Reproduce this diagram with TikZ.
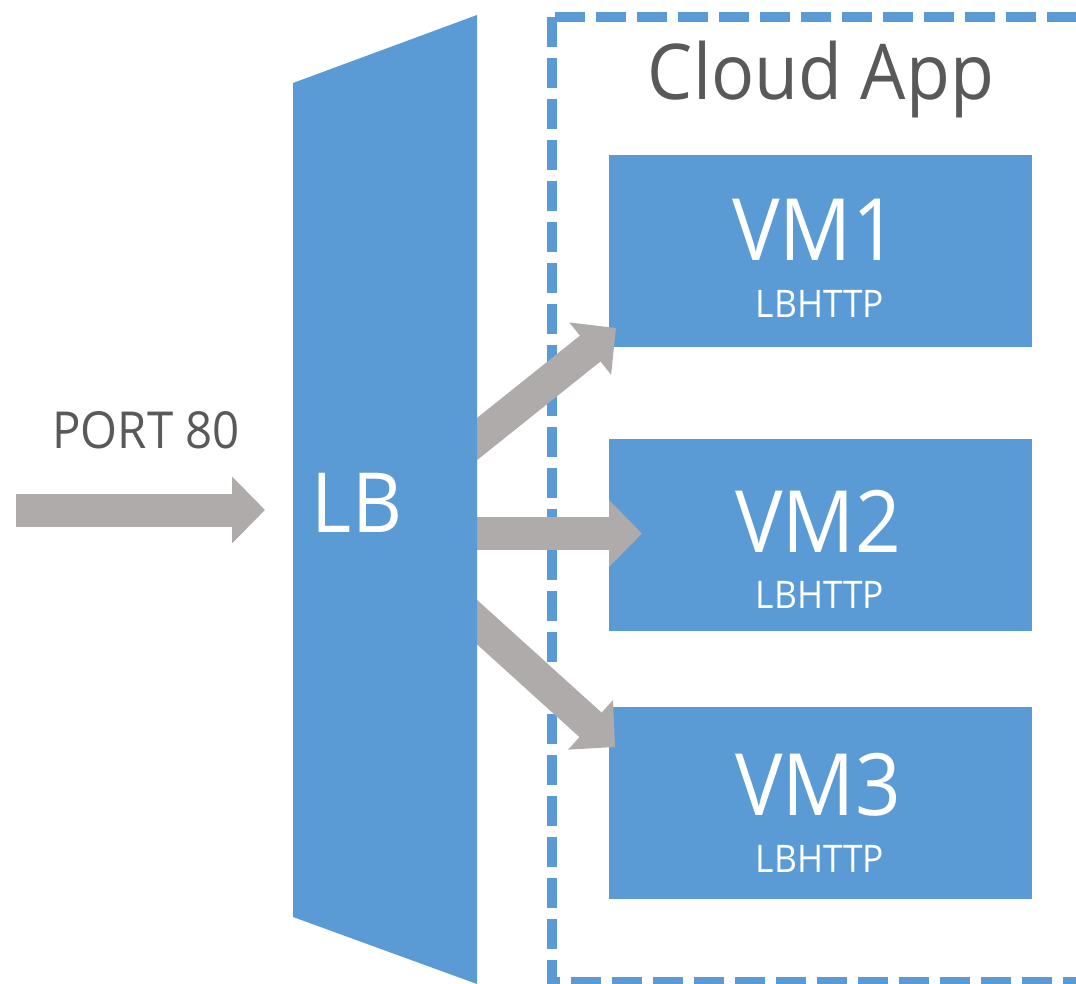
\documentclass[tikz,border=0pt]{standalone}
\usepackage{fontspec}
\setmainfont{Open Sans}[FakeStretch=0.93]
\usetikzlibrary{arrows.meta}
\definecolor{azblue}{HTML}{5B9BD5}
\definecolor{arrgray}{HTML}{AFABAB}
\definecolor{txtgray}{HTML}{595959}
\begin{document}
\begin{tikzpicture}[x=1pt,y=-1pt,
	vmbox/.style={fill=azblue, minimum width=423pt, minimum height=192pt, inner sep=0pt},
	bigtxt/.style={text=white, anchor=base, inner sep=0pt, font=\fontsize{86}{86}\selectfont},
	smalltxt/.style={text=white, anchor=base, inner sep=0pt, font=\fontsize{38}{38}\selectfont},
	fatarrow/.style={draw=arrgray, line width=33pt, -{Triangle[length=33pt,width=65pt]}}]
	\useasboundingbox (0,0) rectangle (1076,984);
	\draw[azblue, line width=9.5pt, dash pattern=on 30pt off 11pt] (552,17) rectangle (1100,982);
	\node[text=txtgray, anchor=base, inner sep=0pt, font=\fontsize{77}{77}\selectfont] (cloud) at (821,100) {Cloud App};
	\node[vmbox] (vm1) at (820.5,251) {};
	\node[vmbox] (vm2) at (820.5,534.5) {};
	\node[vmbox] (vm3) at (820.5,802.5) {};
	\node[bigtxt] (vm1name) at (815,261) {VM1};
	\node[smalltxt] (vm1role) at (820,317) {LBHTTP};
	\node[bigtxt] (vm2name) at (818,552) {VM2};
	\node[smalltxt] (vm2role) at (820,608) {LBHTTP};
	\node[bigtxt] (vm3name) at (818,815) {VM3};
	\node[smalltxt] (vm3role) at (820,872) {LBHTTP};
	\coordinate (in) at (16,510);
	\coordinate (lbin) at (265,510);
	\coordinate (lbout1) at (457,455);
	\coordinate (lbout2) at (457,533.5);
	\coordinate (lbout3) at (457,604);
	\coordinate (vm1in) at (616,328);
	\coordinate (vm2in) at (642,533.5);
	\coordinate (vm3in) at (615,747);
	\draw[fatarrow] (in) -- (lbin);
	\draw[fatarrow] (lbout1) -- (vm1in);
	\draw[fatarrow] (lbout2) -- (vm2in);
	\draw[fatarrow] (lbout3) -- (vm3in);
	\fill[azblue] (293,83) -- (477,15) -- (477,984) -- (293,917) -- cycle;
	\node[text=white, anchor=base, inner sep=0pt, font=\fontsize{83}{83}\selectfont] (lb) at (357,532) {LB};
	\node[text=txtgray, anchor=base, inner sep=0pt, font=\fontsize{51}{51}\selectfont] (port) at (146,448) {PORT 80};
\end{tikzpicture}
\end{document}
